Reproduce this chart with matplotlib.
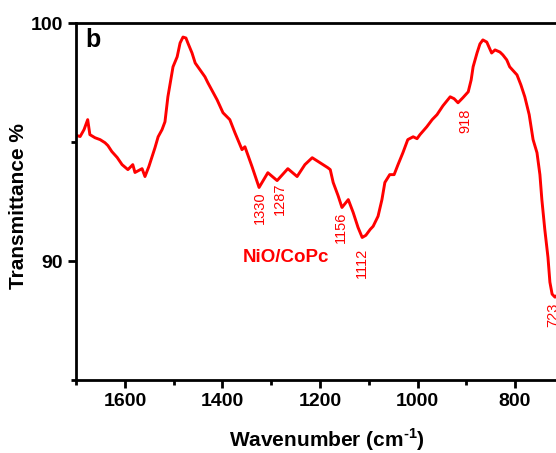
import matplotlib
matplotlib.use("Agg")
import matplotlib.pyplot as plt
from matplotlib.ticker import MultipleLocator

plt.rcParams['font.family'] = ['Liberation Sans', 'DejaVu Sans']
plt.rcParams['mathtext.fontset'] = 'custom'
plt.rcParams['mathtext.rm'] = 'Liberation Sans:bold'
plt.rcParams['mathtext.bf'] = 'Liberation Sans:bold'

# FTIR spectrum of NiO/CoPc
wavenumber = [1698.5, 1692, 1684, 1676.5, 1672, 1661.5, 1651, 1641, 1635, 1627,
              1616, 1606, 1594, 1584, 1579.5, 1565, 1559, 1551, 1538.5, 1532,
              1524, 1518, 1512, 1501.5, 1493, 1487, 1481, 1475, 1471, 1462.5,
              1456, 1446, 1436, 1430, 1411, 1399, 1385, 1374.5, 1360, 1354,
              1339.5, 1325, 1307, 1288, 1266, 1247, 1231, 1216, 1200, 1184,
              1179, 1173, 1163, 1155, 1142, 1132, 1122, 1113.5, 1106, 1097,
              1091, 1081, 1073, 1067, 1057, 1048, 1040, 1030, 1020, 1009,
              1001, 995, 981, 970, 960, 948, 933, 925, 917, 907,
              896, 890, 886, 878, 872, 866, 858, 848, 841, 831,
              825, 817, 811, 796, 788, 780, 771, 763, 755, 749,
              745, 739, 732.5, 728.5, 724, 718, 716]
transmittance = [95.27, 95.23, 95.52, 95.94, 95.31, 95.18, 95.10, 94.97, 94.85, 94.60,
                 94.35, 94.05, 93.84, 94.05, 93.72, 93.88, 93.55, 93.97, 94.76, 95.22,
                 95.52, 95.85, 96.90, 98.16, 98.58, 99.16, 99.41, 99.37, 99.16, 98.74,
                 98.32, 98.03, 97.74, 97.49, 96.77, 96.23, 95.94, 95.39, 94.68, 94.80,
                 93.97, 93.09, 93.71, 93.38, 93.88, 93.55, 94.05, 94.34, 94.13, 93.92,
                 93.84, 93.30, 92.75, 92.25, 92.58, 92.04, 91.41, 90.99, 91.08, 91.33,
                 91.46, 91.88, 92.58, 93.30, 93.63, 93.63, 94.05, 94.55, 95.10, 95.22,
                 95.14, 95.31, 95.64, 95.94, 96.15, 96.52, 96.90, 96.82, 96.65, 96.86,
                 97.11, 97.61, 98.16, 98.74, 99.12, 99.29, 99.20, 98.74, 98.87, 98.78,
                 98.66, 98.45, 98.16, 97.82, 97.40, 96.90, 96.15, 95.10, 94.55, 93.63,
                 92.58, 91.33, 90.16, 89.11, 88.61, 88.48, 88.52]

# peak labels: text, x position, top of label
peak_labels = ['1330', '1287', '1156', '1112', '918', '723']
peak_x = [1323, 1282, 1157, 1114, 901, 722]
peak_top = [92.92, 93.30, 92.08, 90.57, 96.40, 88.27]

red = '#ff0000'

fig = plt.figure(figsize=(5.56, 4.53), dpi=100)
ax = fig.add_axes([0.1371, 0.1611, 0.8629, 0.7881])

ax.plot(wavenumber, transmittance, color=red, lw=2.1)

for lab, px, pt in zip(peak_labels, peak_x, peak_top):
    ax.text(px, pt, lab, color=red, fontsize=10.5, rotation=90,
            ha='center', va='top')

ax.text(1358, 90.13, 'NiO/CoPc', color=red, fontsize=13.5,
        fontweight='bold', ha='left', va='center')
ax.text(0.02, 0.985, 'b', transform=ax.transAxes, fontsize=18,
        fontweight='bold', ha='left', va='top')

ax.set_xlim(1700, 716)
ax.set_ylim(85, 100)

ax.xaxis.set_major_locator(MultipleLocator(200))
ax.xaxis.set_minor_locator(MultipleLocator(100))
ax.yaxis.set_major_locator(MultipleLocator(10))
ax.yaxis.set_minor_locator(MultipleLocator(5))

for side in ['left', 'bottom', 'top']:
    ax.spines[side].set_linewidth(2)
ax.spines['right'].set_visible(False)

ax.tick_params(which='both', direction='out', width=2, top=False, right=False)
ax.tick_params(which='major', length=5.5, pad=4, labelsize=14)
ax.tick_params(which='minor', length=3.5)
for lbl in ax.get_xticklabels() + ax.get_yticklabels():
    lbl.set_fontweight('bold')

ax.set_xlabel(r'Wavenumber (cm$^{\text{-}1}$)', fontsize=15, fontweight='bold')
ax.set_ylabel('Transmittance %', fontsize=15, fontweight='bold')
ax.xaxis.set_label_coords(0.523, -0.13)
ax.yaxis.set_label_coords(-0.10, 0.486)

fig.savefig('out.png', dpi=100)
